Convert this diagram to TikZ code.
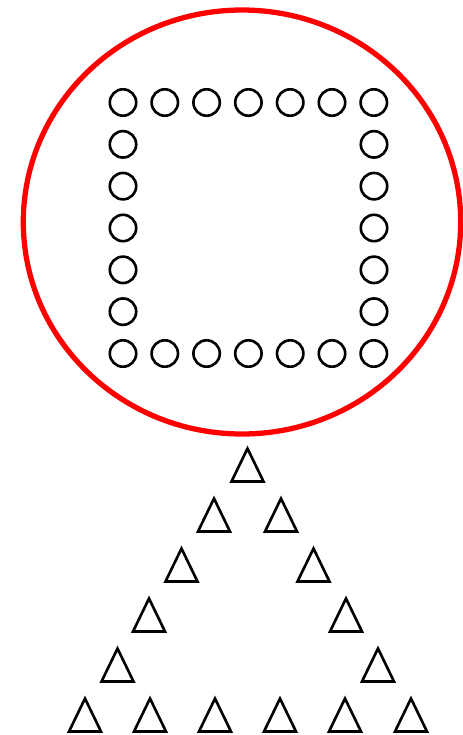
\documentclass[tikz,border=0pt]{standalone}
\usepackage{xcolor}
\usepackage{tikz}
\usetikzlibrary{calc}

\begin{document}
\begin{tikzpicture}[x=0.02cm, y=-0.02cm]
\useasboundingbox (0,0) rectangle (463,735);

% Outer ring
\draw[red, line width=3pt] (242,222) ellipse (218.7 and 212);

% Circles on the border of a 7x7 square
\foreach \i in {0,...,6} {
    \draw[line width=1.5pt] ({123+41.8*\i},102.5) circle (13.2);
    \draw[line width=1.5pt] ({123+41.8*\i},353.5) circle (13.2);
}
\foreach \j in {1,...,5} {
    \draw[line width=1.5pt] (123,{102.5+41.83*\j}) circle (13.2);
    \draw[line width=1.5pt] (374,{102.5+41.83*\j}) circle (13.2);
}

% Triangles
\foreach \x/\y in {247.5/465, 214/515, 281/515, 181.5/565, 313.5/565,
    149/615, 346/615, 117.5/665, 378/665,
    85/715, 150/715, 215/715, 280/715, 345/715, 411/715}
    \draw[line width=1.5pt, line join=miter] (\x,\y) ++(0,-16.5) -- ++(16,33) -- ++(-32,0) -- cycle;

\end{tikzpicture}
\end{document}
